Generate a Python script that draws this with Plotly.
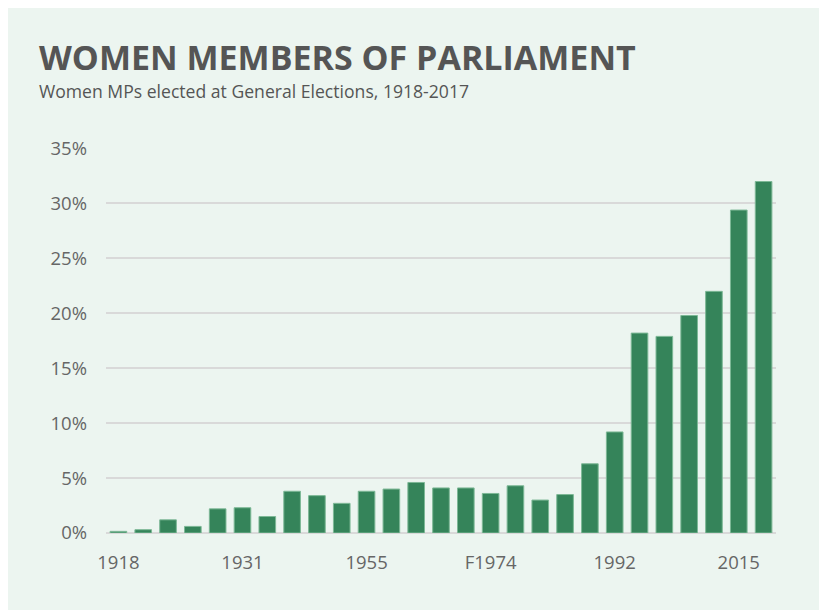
import plotly.graph_objects as go

elections = ["1918", "1922", "1923", "1924", "1929", "1931", "1935", "1945", "1950",
             "1951", "1955", "1959", "1964", "1966", "1970", "F1974", "O1974", "1979",
             "1983", "1987", "1992", "1997", "2001", "2005", "2010", "2015", "2017"]
women_pct = [0.15, 0.3, 1.2, 0.6, 2.2, 2.3, 1.5, 3.8, 3.4,
             2.7, 3.8, 4.0, 4.6, 4.1, 4.1, 3.6, 4.3, 3.0,
             3.5, 6.3, 9.2, 18.2, 17.9, 19.8, 22.0, 29.4, 32.0]
x_tick_labels = ["1918", "1931", "1955", "F1974", "1992", "2015"]
y_tick_vals = [0, 5, 10, 15, 20, 25, 30, 35]
y_tick_labels = ["0%", "5%", "10%", "15%", "20%", "25%", "30%", "35%"]

title_text = "WOMEN MEMBERS OF PARLIAMENT"
subtitle_text = "Women MPs elected at General Elections, 1918-2017"

# figure is placed by the page with an 8px body margin
OFF = 8
W, H = 827, 610
L, T = 106 - OFF, 148 - OFF
R = W - (776 - OFF)
B = H - (533 - OFF)
pw, ph = W - L - R, H - T - B

def px_x(p):
    return (p - OFF - L) / pw

def px_y(p):
    return ((533 - OFF) - (p - OFF)) / ph

fig = go.Figure()
fig.add_trace(go.Bar(
    x=elections, y=women_pct,
    marker=dict(color="#35845A", line=dict(color="#7DB896", width=1)),
    hoverinfo="x+y",
))

fig.add_annotation(text=f"<b>{title_text}</b>", xref="paper", yref="paper",
                   x=px_x(37), y=px_y(57), xanchor="left", yanchor="middle",
                   showarrow=False, font=dict(family="Open Sans", size=34, color="#555555"))
fig.add_annotation(text=subtitle_text, xref="paper", yref="paper",
                   x=px_x(37), y=px_y(91), xanchor="left", yanchor="middle",
                   showarrow=False, font=dict(family="Open Sans", size=17.6, color="#555555"))

fig.update_layout(
    width=W, height=H,
    margin=dict(l=L, r=R, t=T, b=B, autoexpand=False),
    paper_bgcolor="#ECF5F0", plot_bgcolor="rgba(0,0,0,0)",
    bargap=0.33, showlegend=False,
    font=dict(family="Open Sans", color="#666666"),
    xaxis=dict(type="category", categoryorder="array", categoryarray=elections,
               tickmode="array", tickvals=x_tick_labels, ticktext=x_tick_labels,
               showgrid=False, showline=False, ticks="", zeroline=False,
               tickfont=dict(size=18.5, color="#666666"), ticklabelstandoff=16,
               fixedrange=True),
    yaxis=dict(range=[0, 35.05], tickmode="array", tickvals=y_tick_vals,
               ticktext=y_tick_labels, showgrid=True,
               gridcolor="#D9D9D9", gridwidth=1.5, zeroline=True,
               zerolinecolor="#D9D9D9", zerolinewidth=2, showline=False, ticks="",
               tickfont=dict(size=18.5, color="#666666"), ticklabelstandoff=18,
               fixedrange=True),
)

fig.write_html("out.html",
               post_script="document.documentElement.style.overflow='hidden';"
                           "document.body.style.overflow='hidden';")
